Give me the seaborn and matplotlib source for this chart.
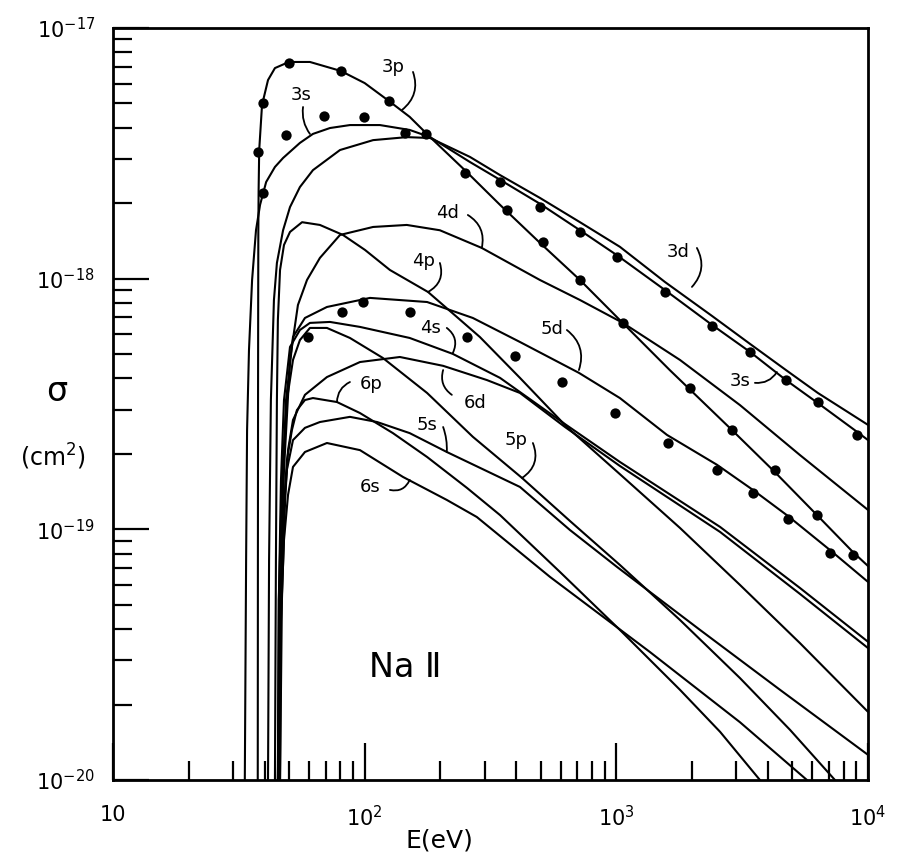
import numpy as np
import pandas as pd
import matplotlib
matplotlib.use("Agg")
import matplotlib.pyplot as plt
import seaborn as sns
from matplotlib.ticker import FixedLocator, FixedFormatter, LogLocator, NullFormatter

# ---------------- data (E in eV, sigma in cm^2) ----------------
E_3p = [37.6, 37.65, 37.7, 37.75, 37.8, 37.9, 38.1, 39.1, 41.3, 44.0, 50.0, 60.6, 80.4, 100, 125, 151,
        182, 250, 345, 497, 717, 1060, 1630, 2880, 4270, 6270, 8710, 10000]
S_3p = [1e-20, 7.55e-20, 3.28e-19, 8.22e-19, 1.56e-18, 2.26e-18, 3.26e-18, 4.93e-18, 6.20e-18, 6.92e-18,
        7.32e-18, 7.32e-18, 6.74e-18, 6.03e-18, 5.11e-18, 4.42e-18, 3.67e-18, 2.71e-18, 1.97e-18,
        1.39e-18, 9.88e-19, 6.66e-19, 4.32e-19, 2.49e-19, 1.69e-19, 1.14e-19, 8.12e-20, 7.14e-20]

E_3s = [33.4, 33.8, 34.1, 34.7, 35.7, 37.0, 38.4, 40.6, 44.0, 47.4, 55.3, 62.3, 72.8, 87.4, 115, 151,
        182, 262, 345, 497, 717, 1006, 1560, 2400, 3400, 4720, 6320, 9040, 10000]
S_3s = [1e-20, 7.55e-20, 2.49e-19, 5.19e-19, 9.88e-19, 1.56e-18, 1.97e-18, 2.43e-18, 2.79e-18, 3.03e-18,
        3.48e-18, 3.78e-18, 3.99e-18, 4.10e-18, 4.10e-18, 3.92e-18, 3.67e-18, 2.92e-18, 2.48e-18,
        1.99e-18, 1.56e-18, 1.24e-18, 9.01e-19, 6.54e-19, 5.10e-19, 3.94e-19, 3.19e-19, 2.45e-19, 2.27e-19]

E_3d = [41.3, 41.7, 42.4, 43.6, 44.8, 47.4, 50.5, 55.3, 62.3, 79.8, 108, 147, 182, 262, 345, 497, 717,
        1033, 1560, 2400, 3400, 4720, 6320, 10000]
S_3d = [1e-20, 7.55e-20, 3.28e-19, 8.22e-19, 1.155e-18, 1.56e-18, 1.93e-18, 2.32e-18, 2.71e-18, 3.26e-18,
        3.57e-18, 3.67e-18, 3.64e-18, 3.06e-18, 2.59e-18, 2.10e-18, 1.68e-18, 1.34e-18, 9.70e-19,
        7.10e-19, 5.49e-19, 4.32e-19, 3.50e-19, 2.61e-19]

E_4p = [44.0, 44.4, 44.8, 45.2, 46.1, 47.8, 50.5, 56.4, 66.4, 82.0, 100.3, 126, 178.5, 232.6, 287, 414,
        636, 1033, 1790, 3100, 5360, 10000]
S_4p = [1e-20, 7.55e-20, 3.28e-19, 6.84e-19, 1.083e-18, 1.363e-18, 1.536e-18, 1.68e-18, 1.638e-18,
        1.494e-18, 1.302e-18, 1.083e-18, 8.85e-19, 7.03e-19, 5.85e-19, 4.02e-19, 2.56e-19, 1.66e-19,
        1.013e-19, 6.00e-20, 3.52e-20, 1.87e-20]

E_4d = [45.6, 46.5, 47.8, 50.5, 54.3, 59.0, 66.4, 79.8, 108, 147, 199, 292, 497, 717, 1062, 1790, 3100,
        5360, 10000]
S_4d = [1e-20, 5.23e-20, 1.73e-19, 4.74e-19, 7.85e-19, 9.88e-19, 1.21e-18, 1.494e-18, 1.608e-18,
        1.638e-18, 1.56e-18, 1.326e-18, 9.88e-19, 8.22e-19, 6.66e-19, 4.74e-19, 3.13e-19, 1.98e-19, 1.195e-19]

E_5d = [46.1, 46.5, 47.4, 48.7, 51.9, 57.9, 70.8, 105, 177, 269, 414, 710, 1033, 1590, 2510, 3490, 4810,
        7060, 10000]
S_5d = [1e-20, 5.23e-20, 1.73e-19, 3.28e-19, 5.85e-19, 6.97e-19, 7.71e-19, 8.38e-19, 8.07e-19, 6.97e-19,
        5.59e-19, 4.21e-19, 3.34e-19, 2.38e-19, 1.81e-19, 1.436e-19, 1.13e-19, 8.27e-20, 6.17e-20]

E_4s = [45.2, 45.6, 46.5, 47.8, 50.5, 55.3, 60.6, 72.8, 95.8, 151, 224, 345, 625, 1033, 2585, 5360, 10000]
S_4s = [1e-20, 5.23e-20, 1.574e-19, 3.28e-19, 5.34e-19, 6.24e-19, 6.66e-19, 6.72e-19, 6.42e-19, 5.80e-19,
        5.01e-19, 4.02e-19, 2.63e-19, 1.857e-19, 1.022e-19, 5.84e-20, 3.56e-20]

E_6d = [46.1, 46.9, 48.3, 49.6, 51.9, 57.9, 70.8, 95.8, 138, 205, 306, 414, 625, 1033, 2585, 5360, 10000]
S_6d = [1e-20, 5.23e-20, 1.31e-19, 2.07e-19, 2.73e-19, 3.44e-19, 4.05e-19, 4.65e-19, 4.87e-19, 4.49e-19,
        3.94e-19, 3.50e-19, 2.56e-19, 1.79e-19, 9.76e-20, 5.53e-20, 3.36e-20]

E_5p = [45.2, 45.6, 46.9, 49.1, 51.9, 55.3, 60.6, 70.8, 87.4, 118, 177, 269, 422, 654, 1033, 1790, 3100,
        4900, 7390]
S_5p = [1e-20, 5.23e-20, 1.574e-19, 3.28e-19, 4.74e-19, 5.69e-19, 6.36e-19, 6.36e-19, 5.80e-19, 4.83e-19,
        3.50e-19, 2.34e-19, 1.603e-19, 1.08e-19, 7.21e-20, 4.35e-20, 2.55e-20, 1.585e-20, 1e-20]

E_6p = [45.6, 46.1, 47.4, 49.1, 51.4, 53.8, 57.9, 62.3, 77.6, 95.8, 129.5, 177, 255, 345, 597, 1033, 1790,
        2585, 3720]
S_6p = [1e-20, 4.35e-20, 1.09e-19, 1.89e-19, 2.49e-19, 2.99e-19, 3.28e-19, 3.34e-19, 3.22e-19, 2.91e-19,
        2.42e-19, 1.944e-19, 1.463e-19, 1.14e-19, 6.76e-20, 3.97e-20, 2.29e-20, 1.556e-20, 1e-20]

E_5s = [45.2, 46.1, 47.4, 49.1, 51.9, 57.9, 66.4, 87.4, 112, 151, 212, 414, 654, 1006, 2150, 4470, 10000]
S_5s = [1e-20, 4.35e-20, 1.09e-19, 1.73e-19, 2.27e-19, 2.54e-19, 2.68e-19, 2.81e-19, 2.68e-19, 2.42e-19,
        2.035e-19, 1.476e-19, 9.94e-20, 7.08e-20, 3.97e-20, 2.29e-20, 1.26e-20]

E_6s = [45.6, 46.5, 47.8, 49.6, 51.9, 57.9, 70.8, 95.8, 142, 212, 279, 545, 1360, 3100, 5720]
S_6s = [1e-20, 4.35e-20, 9.07e-20, 1.372e-19, 1.774e-19, 2.035e-19, 2.21e-19, 2.07e-19, 1.618e-19,
        1.31e-19, 1.12e-19, 6.46e-20, 3.24e-20, 1.70e-20, 1e-20]

# measured points (dots)
E_dots_3p = [39.4, 37.7, 39.4, 50.0, 80.4, 125, 145, 175, 250, 368, 511, 717, 1062, 1960, 2880, 4270, 6270, 8710]
S_dots_3p = [2.20e-18, 3.20e-18, 5.02e-18, 7.25e-18, 6.74e-18, 5.11e-18, 3.81e-18, 3.78e-18, 2.64e-18,
             1.88e-18, 1.40e-18, 9.88e-19, 6.66e-19, 3.66e-19, 2.49e-19, 1.73e-19, 1.14e-19, 7.90e-20]
E_dots_3s = [48.7, 68.9, 99.4, 345, 497, 717, 1006, 1560, 2400, 3400, 4720, 6320, 9040]
S_dots_3s = [3.74e-18, 4.46e-18, 4.42e-18, 2.43e-18, 1.93e-18, 1.536e-18, 1.22e-18, 8.85e-19, 6.48e-19,
             5.10e-19, 3.94e-19, 3.22e-19, 2.38e-19]
E_dots_4s = [59.5, 81.2, 98.4, 151, 255, 395, 608, 987, 1600, 2510, 3490, 4810, 7060]
S_dots_4s = [5.85e-19, 7.37e-19, 8.07e-19, 7.37e-19, 5.85e-19, 4.92e-19, 3.87e-19, 2.91e-19, 2.21e-19,
             1.73e-19, 1.397e-19, 1.10e-19, 8.05e-20]

x_tick_values = [10, 100, 1000, 10000]
x_tick_labels = ["10", "$10^2$", "$10^3$", "$10^4$"]
y_tick_values = [1e-20, 1e-19, 1e-18, 1e-17]
y_tick_labels = ["$10^{-20}$", "$10^{-19}$", "$10^{-18}$", "$10^{-17}$"]

# curve labels: (text, E, sigma) and leader lines: (start, end, curvature)
curve_labels = [("3p", 129.5, 6.99e-18), ("3s", 55.8, 5.40e-18), ("4d", 214, 1.83e-18),
                ("4p", 172, 1.177e-18), ("4s", 182, 6.36e-19), ("6p", 106, 3.80e-19),
                ("6d", 274, 3.19e-19), ("5d", 555, 6.30e-19), ("5s", 177, 2.61e-19),
                ("5p", 399, 2.27e-19), ("6s", 105, 1.476e-19), ("3d", 1757, 1.278e-18),
                ("3s", 3098, 3.91e-19)]
leaders = [((155.6, 6.68e-18), (140.7, 4.71e-18), -0.35),
           ((56.9, 4.84e-18), (60.6, 3.78e-18), 0.2),
           ((257, 1.795e-18), (292, 1.326e-18), -0.35),
           ((199, 1.155e-18), (178.5, 8.85e-19), -0.4),
           ((212, 6.36e-19), (224, 5.05e-19), -0.4),
           ((87.4, 3.87e-19), (77.6, 3.22e-19), 0.3),
           ((222, 3.44e-19), (205, 4.32e-19), -0.35),
           ((636, 6.24e-19), (710, 4.32e-19), -0.35),
           ((205, 2.56e-19), (212, 2.035e-19), -0.1),
           ((466, 2.21e-19), (422, 1.603e-19), -0.4),
           ((126, 1.436e-19), (151, 1.574e-19), 0.4),
           ((2090, 1.326e-18), (1997, 9.27e-19), -0.35),
           ((3554, 3.84e-19), (4345, 4.24e-19), 0.3)]

# ---------------- build tables ----------------
curves = {"3p": (E_3p, S_3p), "3s": (E_3s, S_3s), "3d": (E_3d, S_3d), "4p": (E_4p, S_4p),
          "4d": (E_4d, S_4d), "5d": (E_5d, S_5d), "4s": (E_4s, S_4s), "6d": (E_6d, S_6d),
          "5p": (E_5p, S_5p), "6p": (E_6p, S_6p), "5s": (E_5s, S_5s), "6s": (E_6s, S_6s)}
rows = []
for name, (ev, sv) in curves.items():
    for i, (e, s) in enumerate(zip(ev, sv)):
        rows.append((name, i, e, s))
df = pd.DataFrame(rows, columns=["state", "order", "E", "sigma"])

dots = pd.DataFrame({"E": E_dots_3p + E_dots_3s + E_dots_4s,
                     "sigma": S_dots_3p + S_dots_3s + S_dots_4s})

# ---------------- plot ----------------
sns.set_style("white")
plt.rcParams['font.family'] = ['DejaVu Sans']
plt.rcParams['mathtext.fontset'] = 'dejavusans'
for key in ["text.color", "axes.labelcolor", "xtick.color", "ytick.color", "axes.edgecolor"]:
    plt.rcParams[key] = "black"

fig = plt.figure(figsize=(8.97, 8.59), dpi=100)
ax = fig.add_axes([113 / 897, 1 - 780 / 859, 755 / 897, 752 / 859])
ax.set_xscale("log")
ax.set_yscale("log")

sns.lineplot(data=df, x="E", y="sigma", units="state", estimator=None, sort=False,
             color="black", linewidth=1.5, ax=ax, legend=False)
sns.scatterplot(data=dots, x="E", y="sigma", color="black", s=55, linewidth=0,
                ax=ax, legend=False, zorder=4)

ax.set_xlim(10, 1e4)
ax.set_ylim(1e-20, 1e-17)

ax.xaxis.set_major_locator(FixedLocator(x_tick_values))
ax.xaxis.set_major_formatter(FixedFormatter(x_tick_labels))
ax.xaxis.set_minor_locator(LogLocator(base=10, subs=np.arange(2, 10)))
ax.xaxis.set_minor_formatter(NullFormatter())
ax.yaxis.set_major_locator(FixedLocator(y_tick_values))
ax.yaxis.set_major_formatter(FixedFormatter(y_tick_labels))
ax.yaxis.set_minor_locator(LogLocator(base=10, subs=np.arange(2, 10)))
ax.yaxis.set_minor_formatter(NullFormatter())

ax.tick_params(which="both", direction="in", bottom=True, left=True, top=False, right=False,
               color="black", labelcolor="black", width=1.6)
ax.tick_params(axis="x", which="major", length=27, pad=18, labelsize=15)
ax.tick_params(axis="x", which="minor", length=14)
ax.tick_params(axis="y", which="major", length=26, pad=13, labelsize=15)
ax.tick_params(axis="y", which="minor", length=13.5)
for sp in ax.spines.values():
    sp.set_linewidth(2.0)
    sp.set_color("black")

ax.set_xlabel("")
ax.set_ylabel("")

for txt, e, s in curve_labels:
    ax.text(e, s, txt, fontsize=13, ha="center", va="center", color="black")
for (p0, p1, rad) in leaders:
    ax.annotate("", xy=p1, xytext=p0,
                arrowprops=dict(arrowstyle="-", color="black", lw=1.3, shrinkA=0, shrinkB=0,
                                connectionstyle=f"arc3,rad={rad}"))

ax.text(-0.074, 0.516, "σ", transform=ax.transAxes, fontsize=24, ha="center", va="center", color="black")
ax.text(-0.079, 0.4295, "(cm$^2$)", transform=ax.transAxes, fontsize=17, ha="center", va="center",
        color="black")
ax.text(0.433, -0.08, "E(eV)", transform=ax.transAxes, fontsize=18, ha="center", va="center", color="black")
ax.text(0.387, 0.150, "Na Ⅱ", transform=ax.transAxes, fontsize=24, ha="center", va="center",
        color="black", family=["DejaVu Sans", "Noto Sans CJK SC"])

fig.savefig("out.png", dpi=100)
